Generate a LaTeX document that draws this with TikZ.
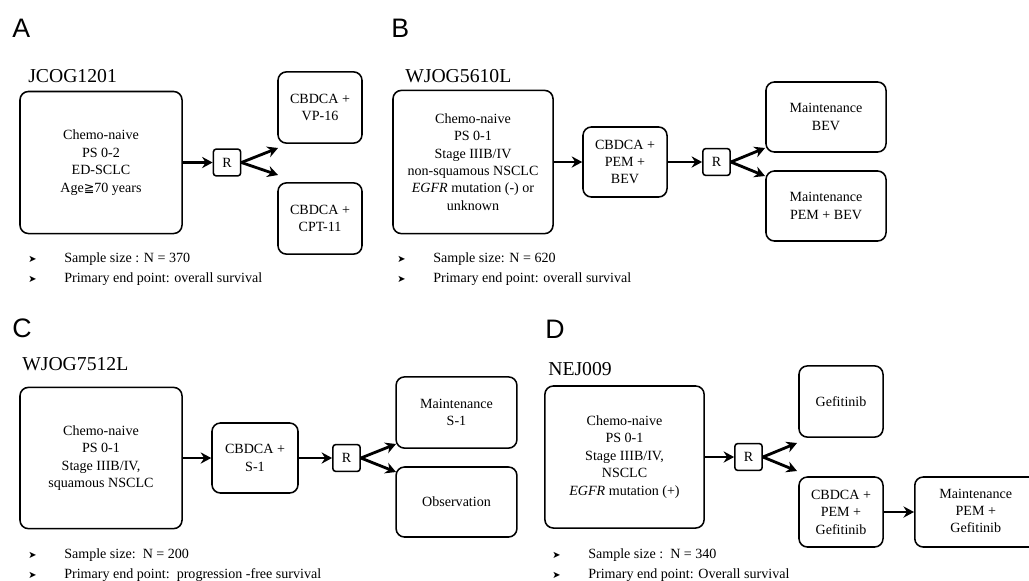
\documentclass[tikz,border=0pt]{standalone}
\usepackage{fontspec}
\setmainfont{Liberation Serif}
\newfontfamily\panelfont{Liberation Sans}
\newfontfamily\symfont{DejaVu Sans}
\usetikzlibrary{arrows.meta}

\newcommand{\itm}[1]{\makebox[25.6pt][l]{\symfont\fontsize{7}{7}\selectfont ➤}#1}

\begin{document}
\begin{tikzpicture}[x=0.025cm,y=-0.025cm,>={Stealth[length=7.5pt,width=8pt,inset=2.5pt]},
    box/.style={draw,rounded corners=6pt,line width=1.1pt,align=center,inner sep=2pt,
                font=\fontsize{10}{12.4}\selectfont},
    rbox/.style={draw,rounded corners=2pt,line width=1.1pt,minimum width=0.68cm,
                 minimum height=0.67cm,inner sep=0pt,font=\fontsize{10}{12}\selectfont},
    arr/.style={->,line width=2pt},
    panel/.style={anchor=base west,inner sep=0pt,font=\panelfont\fontsize{19}{19}\selectfont},
    trial/.style={anchor=base west,inner sep=0pt,font=\fontsize{14}{14}\selectfont},
    note/.style={anchor=base west,inner sep=0pt,font=\fontsize{10}{12}\selectfont}]
    \useasboundingbox (0,0) rectangle (1029,580);

    % A
    \node[panel] (pA) at (12,37) {A};
    \node[trial] (tA) at (28,82) {JCOG1201};
    \node[box,minimum width=4.05cm,minimum height=3.55cm] (mainA) at (101,162.5)
        {Chemo-naive\\PS 0-2\\ED-SCLC\\Age{\symfont\fontsize{9}{9}\selectfont ≧}70 years};
    \node[rbox] (rA) at (227,162.5) {R};
    \node[box,minimum width=2.1cm,minimum height=1.78cm] (a1) at (320,107.5) {CBDCA +\\VP-16};
    \node[box,minimum width=2.1cm,minimum height=1.78cm] (a2) at (320,218.5) {CBDCA +\\CPT-11};
    \coordinate (a1in) at (278,148);
    \coordinate (a2in) at (278,175);
    \draw[arr] (mainA.east) -- (rA.west);
    \draw[arr] (rA.east) -- (a1in);
    \draw[arr] (rA.east) -- (a2in);
    \node[note] (nA1) at (28,262) {\itm{Sample size : N = 370}};
    \node[note] (nA2) at (28,282) {\itm{Primary end point: overall survival}};

    % B
    \node[panel] (pB) at (391,37) {B};
    \node[trial] (tB) at (405,82) {WJOG5610L};
    \node[box,minimum width=4.0cm,minimum height=3.58cm] (mainB) at (473,162)
        {Chemo-naive\\PS 0-1\\Stage IIIB/IV\\non-squamous NSCLC\\\textit{EGFR} mutation (-) or\\unknown};
    \node[box,minimum width=2.1cm,minimum height=1.75cm] (cB) at (625,162) {CBDCA +\\PEM +\\BEV};
    \node[rbox] (rB) at (716.5,162) {R};
    \node[box,minimum width=3.0cm,minimum height=1.75cm] (b1) at (826,117) {Maintenance\\BEV};
    \node[box,minimum width=3.0cm,minimum height=1.75cm] (b2) at (826,206) {Maintenance\\PEM + BEV};
    \coordinate (b1in) at (765,148);
    \coordinate (b2in) at (765,176);
    \draw[arr] (mainB.east) -- (cB.west);
    \draw[arr] (cB.east) -- (rB.west);
    \draw[arr] (rB.east) -- (b1in);
    \draw[arr] (rB.east) -- (b2in);
    \node[note] (nB1) at (397,262) {\itm{Sample size: N = 620}};
    \node[note] (nB2) at (397,282) {\itm{Primary end point: overall survival}};

    % C
    \node[panel] (pC) at (12,337) {C};
    \node[trial] (tC) at (22,370) {WJOG7512L};
    \node[box,minimum width=4.05cm,minimum height=3.53cm] (mainC) at (101,458)
        {Chemo-naive\\PS 0-1\\Stage IIIB/IV,\\squamous NSCLC};
    \node[box,minimum width=2.15cm,minimum height=1.75cm] (cC) at (255,458) {CBDCA +\\S-1};
    \node[rbox] (rC) at (346.5,458) {R};
    \node[box,minimum width=3.02cm,minimum height=1.78cm] (c1) at (456.5,412.5) {Maintenance\\S-1};
    \node[box,minimum width=3.02cm,minimum height=1.75cm] (c2) at (456.5,502) {Observation};
    \coordinate (c1in) at (396,444);
    \coordinate (c2in) at (396,472);
    \draw[arr] (mainC.east) -- (cC.west);
    \draw[arr] (cC.east) -- (rC.west);
    \draw[arr] (rC.east) -- (c1in);
    \draw[arr] (rC.east) -- (c2in);
    \node[note] (nC1) at (28,558) {\itm{Sample size:\ \ N = 200}};
    \node[note] (nC2) at (28,578) {\itm{Primary end point:\ \ progression -free survival}};

    % D
    \node[panel] (pD) at (545,338) {D};
    \node[trial] (tD) at (548,375) {NEJ009};
    \node[box,minimum width=3.98cm,minimum height=3.55cm] (mainD) at (624.5,457)
        {Chemo-naive\\PS 0-1\\Stage IIIB/IV,\\NSCLC\\\textit{EGFR} mutation (+)};
    \node[rbox] (rD) at (748.5,457) {R};
    \node[box,minimum width=2.1cm,minimum height=1.78cm] (d1) at (841,401.5) {Gefitinib};
    \node[box,minimum width=2.1cm,minimum height=1.75cm] (d2) at (841,512) {CBDCA +\\PEM +\\Gefitinib};
    % runs off the right edge
    \node[box,anchor=west,minimum width=3.4cm,minimum height=1.75cm] (d3) at (914,512)
        {\begin{tabular}{@{}c@{}}Maintenance\\PEM +\\Gefitinib\end{tabular}\hspace{10pt}};
    \coordinate (d1in) at (797,443);
    \coordinate (d2in) at (797,471);
    \draw[arr] (mainD.east) -- (rD.west);
    \draw[arr] (rD.east) -- (d1in);
    \draw[arr] (rD.east) -- (d2in);
    \draw[arr] (d2.east) -- (d3.west);
    \node[note] (nD1) at (552,558) {\itm{Sample size :\ \ N = 340}};
    \node[note] (nD2) at (552,578) {\itm{Primary end point: Overall survival}};
\end{tikzpicture}
\end{document}
